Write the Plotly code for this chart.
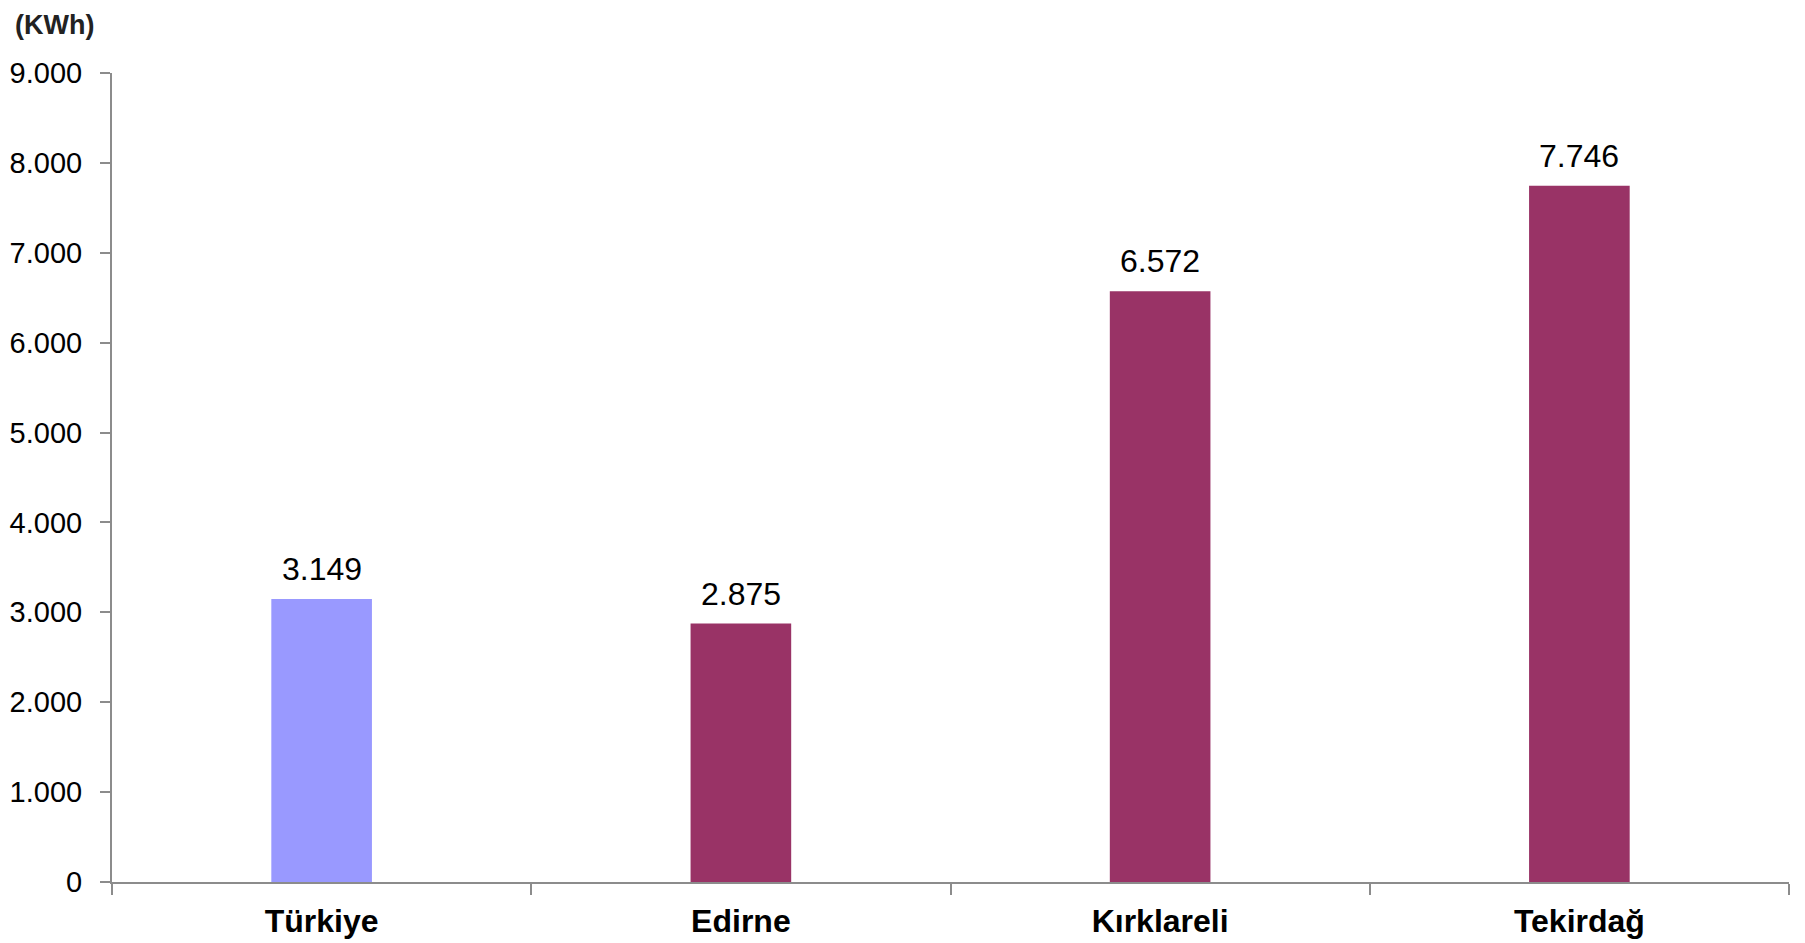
import plotly.graph_objects as go

# Data
regions = ["Türkiye", "Edirne", "Kırklareli", "Tekirdağ"]
consumption = [3149, 2875, 6572, 7746]
bar_colors = ["#9999FF", "#993366", "#993366", "#993366"]

FONT = "Liberation Sans, Arial, sans-serif"

fig = go.Figure(go.Bar(
    x=regions,
    y=consumption,
    marker=dict(color=bar_colors, line=dict(width=0)),
    width=0.24,
    cliponaxis=False,
))

# value labels above the bars
for r, v in zip(regions, consumption):
    fig.add_annotation(
        x=r, y=v,
        text=f"{v:,}".replace(",", "."),
        showarrow=False,
        yanchor="middle",
        yshift=30,
        font=dict(family=FONT, size=32, color="#000000"),
    )

fig.add_annotation(
    text="<b>(KWh)</b>",
    xref="paper", yref="paper",
    x=-99 / 1677, y=1 + 48 / 809,
    xanchor="left", yanchor="middle",
    showarrow=False,
    font=dict(family=FONT, size=27, color="#222222"),
)

fig.update_layout(
    width=1805,
    height=943,
    margin=dict(l=104, r=24, t=65, b=69),
    paper_bgcolor="white",
    plot_bgcolor="white",
    separators=",.",
    showlegend=False,
    font=dict(family=FONT, color="#000000"),
)

fig.update_yaxes(
    range=[0, 9000],
    dtick=1000,
    tickformat=",d",
    automargin=False,
    showgrid=False,
    zeroline=False,
    showline=True,
    linecolor="#8c8c8c",
    linewidth=2,
    ticks="outside",
    ticklen=10,
    tickwidth=2,
    tickcolor="#8c8c8c",
    ticklabelstandoff=12,
    tickfont=dict(family=FONT, size=29, color="#000000"),
)

fig.update_xaxes(
    automargin=False,
    showgrid=False,
    showline=True,
    linecolor="#8c8c8c",
    linewidth=2,
    ticks="outside",
    tickson="boundaries",
    ticklen=11,
    tickwidth=2,
    tickcolor="#8c8c8c",
    ticklabelstandoff=10,
    tickfont=dict(family=FONT, size=32, color="#000000", weight="bold"),
)

fig.write_html("out.html")
